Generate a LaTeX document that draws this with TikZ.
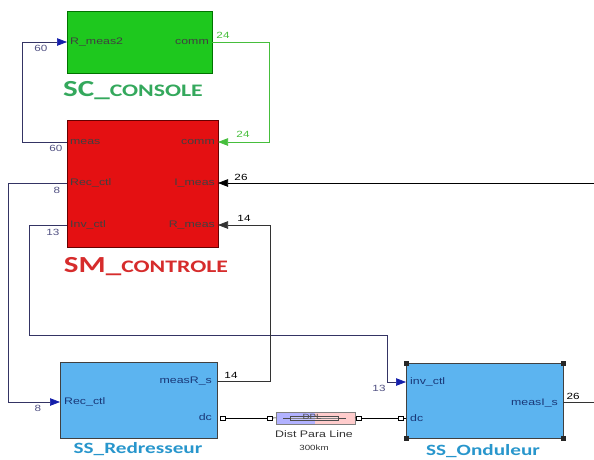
\documentclass[tikz,border=0pt]{standalone}
\usepackage{fontspec}
\setmainfont{Liberation Sans}[FakeStretch=1.3]
\newfontfamily\titlefont{Carlito}[FakeStretch=1.35]
\usepackage{xcolor}
\usetikzlibrary{arrows.meta}

\definecolor{conGreen}{RGB}{30,200,30}
\definecolor{ctlRed}{RGB}{228,16,18}
\definecolor{ssBlue}{RGB}{92,180,240}
\definecolor{conText}{RGB}{52,168,92}
\definecolor{ctlText}{RGB}{214,44,44}
\definecolor{ssText}{RGB}{40,150,204}
\definecolor{wireNavy}{RGB}{52,52,100}
\definecolor{tipBlue}{RGB}{20,30,170}
\definecolor{numBlue}{RGB}{80,80,130}
\definecolor{portNavy}{RGB}{26,56,120}
\definecolor{sigGreen}{RGB}{70,190,60}

\begin{document}
\begin{tikzpicture}[x=1pt,y=-1pt,
  blk/.style={draw=#1, line width=0.8pt, inner sep=0pt, anchor=north west},
  port/.style={font=\fontsize{9.5}{9.5}\selectfont, inner sep=1pt, text=black!75},
  ssport/.style={port, text=portNavy},
  num/.style={font=\fontsize{9}{9}\selectfont, inner sep=0pt},
  title/.style={font=\titlefont\bfseries, anchor=base, inner sep=0pt},
  sig/.style={line width=0.7pt, -{Triangle[length=10pt,width=7.5pt]}},
  ctlsig/.style={line width=0.7pt, draw=wireNavy, -{Triangle[length=10pt,width=7.5pt,color=tipBlue]}},
  conn/.style={draw, fill=white, line width=0.5pt, inner sep=0pt, minimum width=5pt, minimum height=4pt},
  handle/.style={fill=black!85, inner sep=0pt, minimum size=5pt}]
\useasboundingbox (0,0) rectangle (594,459);

% blocks
\node[blk=green!45!black, fill=conGreen, minimum width=145pt, minimum height=62pt] (console) at (67,11) {};
\node[blk=black!60!red, fill=ctlRed, minimum width=151pt, minimum height=127pt] (controle) at (67,120) {};
\node[blk=black!75, fill=ssBlue, minimum width=157pt, minimum height=76pt] (redress) at (60,362) {};
\node[blk=black!75, fill=ssBlue, minimum width=157pt, minimum height=75pt] (ondul) at (406,363) {};
\foreach \c in {north west,north east,south west,south east}
  \node[handle] at (ondul.\c) {};

\node[title, text=conText] (conName) at (133,96) {\fontsize{23}{23}\selectfont SC\_\fontsize{17.6}{18}\selectfont CONSOLE};
\node[title, text=ctlText] (ctlName) at (146,272) {\fontsize{23}{23}\selectfont SM\_\fontsize{17.6}{18}\selectfont CONTROLE};
\node[title, text=ssText, font=\titlefont\bfseries\fontsize{15.7}{16}\selectfont] (redName) at (138,453) {SS\_Redresseur};
\node[title, text=ssText, font=\titlefont\bfseries\fontsize{15.7}{16}\selectfont] (ondName) at (483,455) {SS\_Onduleur};

% ports
\coordinate (conIn) at (67,42);   \coordinate (conOut) at (212,42);
\coordinate (ctlMeas) at (67,142); \coordinate (ctlComm) at (218,142);
\coordinate (ctlRec) at (67,183);  \coordinate (ctlImeas) at (218,183);
\coordinate (ctlInv) at (67,225);  \coordinate (ctlRmeas) at (218,225);
\coordinate (redRec) at (60,402);  \coordinate (redMeas) at (217,381);
\coordinate (ondInv) at (406,382); \coordinate (ondMeas) at (563,402);
\coordinate (edgeI) at (598,183);  \coordinate (edgeO) at (598,402);
\coordinate (invA) at (29,335);    \coordinate (invB) at (387,335);

\node[port, anchor=west] at (69,42) {R\_meas2};
\node[port, anchor=east] at (210,42) {comm};
\node[port, anchor=west] at (69,142) {meas};
\node[port, anchor=west] at (69,183) {Rec\_ctl};
\node[port, anchor=west] at (69,225) {Inv\_ctl};
\node[port, anchor=east] at (216,142) {comm};
\node[port, anchor=east] at (216,183) {I\_meas};
\node[port, anchor=east] at (216,225) {R\_meas};
\node[ssport, anchor=west] at (63,402) {Rec\_ctl};
\node[ssport, anchor=east] at (213,381) {measR\_s};
\node[ssport, anchor=east] at (213,417) {dc};
\node[ssport, anchor=west] at (409,382) {inv\_ctl};
\node[ssport, anchor=west] at (409,418) {dc};
\node[ssport, anchor=east] at (559,403) {measI\_s};

% line model
\node[blk=black!50, minimum width=78pt, minimum height=11pt] (dpl) at (276,412) {};
\fill[blue!30!white] (dpl.north west) rectangle (dpl.south);
\fill[red!20!white] (dpl.north) rectangle (dpl.south east);
\draw[black!50, line width=0.6pt] (dpl.north west) rectangle (dpl.south east);
\draw[black!70, line width=0.5pt] (283,418) -- (346,418);
\draw[black!70, line width=0.5pt, fill=white, fill opacity=0.3] (290,416) rectangle (338,420);
\node[font=\fontsize{7.5}{7.5}\selectfont, text=black!70, inner sep=0pt] (dplTxt) at (312,417) {DPL};
\node[font=\fontsize{9.5}{9.5}\selectfont, text=black!80, inner sep=0pt, anchor=base] (dplName) at (314,437) {Dist Para Line};
\node[font=\fontsize{7.5}{7.5}\selectfont, text=black!80, inner sep=0pt, anchor=base] (dplLen) at (314,450) {300km};

\node[conn] (redSq) at (223,418) {};
\node[conn] (dplSqL) at (270,418) {};
\node[conn] (dplSqR) at (359,418) {};
\node[conn] (ondSq) at (401,418) {};
\draw[line width=0.6pt] (redSq) -- (dplSqL);
\draw[line width=0.6pt] (dplSqL) -- (dpl.west);
\draw[line width=0.6pt] (dpl.east) -- (dplSqR);
\draw[line width=0.6pt] (dplSqR) -- (ondSq);
\draw[line width=0.6pt] (ondSq) -- (ondul.west |- ondSq);

% signals
\draw[sig, draw=wireNavy, -{Triangle[length=10pt,width=7.5pt,color=tipBlue]}] (ctlMeas) -- ++(-45,0) |- (conIn);
\draw[sig, draw=sigGreen] (conOut) -- ++(57,0) |- (ctlComm);
\draw[ctlsig] (ctlRec) -- ++(-59,0) |- (redRec);
\draw[ctlsig] (ctlInv) -| (invA) -- (invB) |- (ondInv);
\draw[sig, draw=black!80] (redMeas) -- ++(53,0) |- (ctlRmeas);
\draw[sig, draw=black] (edgeI) -- (ctlImeas);
\draw[line width=0.7pt, black!80] (ondMeas) -- (edgeO);

\node[num, text=numBlue] at (41,48) {60};
\node[num, text=numBlue] at (56,148) {60};
\node[num, text=sigGreen] at (223,35) {24};
\node[num, text=sigGreen] at (243,134) {24};
\node[num, text=numBlue] at (57,190) {8};
\node[num, text=numBlue] at (53,232) {13};
\node[num] at (241,177) {26};
\node[num] at (244,218) {14};
\node[num] at (231,375) {14};
\node[num, text=numBlue] at (38,408) {8};
\node[num, text=numBlue] at (379,388) {13};
\node[num] at (573,396) {26};
\end{tikzpicture}
\end{document}
